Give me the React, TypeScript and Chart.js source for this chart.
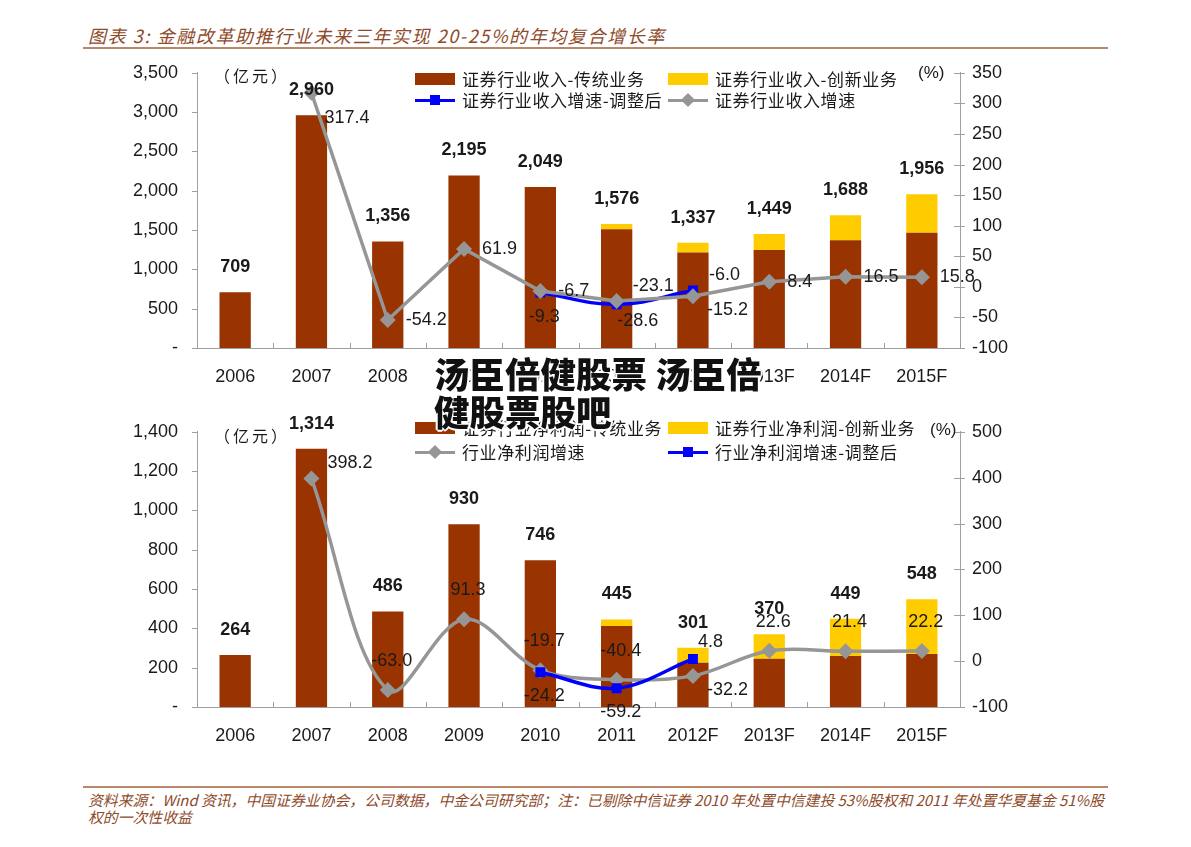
import React, { useEffect, useRef } from 'react';
import { Chart, registerables } from 'chart.js';

Chart.register(...registerables);

// ---------- data ----------
const categories = ['2006', '2007', '2008', '2009', '2010', '2011', '2012F', '2013F', '2014F', '2015F'];

// top chart: revenue (亿元)
const revenueTraditional = [709, 2960, 1356, 2195, 2049, 1510, 1215, 1245, 1370, 1465];
const revenueInnovation = [null, null, null, null, null, 66, 122, 204, 318, 491];
const revenueGrowth = [null, 317.4, -54.2, 61.9, -6.7, -23.1, -15.2, 8.4, 16.5, 15.8];
const revenueGrowthAdjusted = [null, null, null, null, -9.3, -28.6, -6.0, null, null, null];
const revenueLeftTicks = { min: 0, max: 3500, step: 500 };
const revenueRightTicks = { min: -100, max: 350, step: 50 };

// bottom chart: net profit (亿元)
const profitTraditional = [264, 1314, 486, 930, 746, 412, 225, 245, 260, 270];
const profitInnovation = [null, null, null, null, null, 33, 76, 125, 189, 278];
const profitGrowth = [null, 398.2, -63.0, 91.3, -19.7, -40.4, -32.2, 22.6, 21.4, 22.2];
const profitGrowthAdjusted = [null, null, null, null, -24.2, -59.2, 4.8, null, null, null];
const profitLeftTicks = { min: 0, max: 1400, step: 200 };
const profitRightTicks = { min: -100, max: 500, step: 100 };

// label placement codes (style only)
const revenueGrowthPlace = [null, 'rbb', 'r', 'r', 'r', 'ra', 'rb', 'r', 'r', 'r'];
const revenueAdjPlace = [null, null, null, null, 'b', 'bb', 'ra', null, null, null];
const profitGrowthPlace = [null, 'ra', 'a', 'a', 'a', 'a', 'rb', 'a', 'a', 'a'];
const profitAdjPlace = [null, null, null, null, 'b', 'b', 'ras', null, null, null];

// ---------- style ----------
const BROWN = '#993300';
const YELLOW = '#FFCC00';
const GREY = '#969696';
const BLUE = '#0000FF';
const AXIS = '#A0A0A0';
const TEXT = '#1a1a1a';
const NUM_FONT = '"Liberation Sans", Arial, sans-serif';
const CJK_FONT = '"Noto Sans CJK SC", "Noto Sans", sans-serif';
const TITLE_COLOR = '#8E4A2A';
const RULE_COLOR = '#B9876A';

const OFFSETS: Record<string, [number, number, CanvasTextAlign]> = {
  r: [18, 0, 'left'],
  ra: [16, -15, 'left'],
  ras: [5, -17, 'left'],
  rb: [14, 14, 'left'],
  rbb: [13, 25, 'left'],
  a: [4, -29, 'center'],
  b: [4, 24, 'center'],
  bb: [21, 17, 'center'],
};

const annotatePlugin = {
  id: 'annotate',
  afterDatasetsDraw(chart: any, _args: any, opts: any) {
    const ctx: CanvasRenderingContext2D = chart.ctx;
    const area = chart.chartArea;
    const xs = chart.scales.x;
    const yl = chart.scales.y;
    const yr = chart.scales.y1;
    ctx.save();
    ctx.strokeStyle = AXIS;
    ctx.lineWidth = 1;
    const seg = (x1: number, y1: number, x2: number, y2: number) => {
      ctx.beginPath();
      ctx.moveTo(x1, y1);
      ctx.lineTo(x2, y2);
      ctx.stroke();
    };
    const n = chart.data.labels.length;
    for (let i = 0; i <= n; i++) {
      const px = Math.round(area.left + (i * (area.right - area.left)) / n) + 0.5;
      seg(px, area.bottom, px, area.bottom - 5);
    }
    yl.ticks.forEach((t: any) => {
      const py = Math.round(yl.getPixelForValue(t.value)) + 0.5;
      seg(area.left - 5, py, area.left + 1, py);
    });
    yr.ticks.forEach((t: any) => {
      const py = Math.round(yr.getPixelForValue(t.value)) + 0.5;
      seg(area.right - 6, py, area.right + 5, py);
    });

    // totals above bars
    ctx.fillStyle = TEXT;
    ctx.font = `bold 18px ${NUM_FONT}`;
    ctx.textAlign = 'center';
    ctx.textBaseline = 'middle';
    const trad = chart.data.datasets[0].data;
    const innov = chart.data.datasets[1].data;
    for (let i = 0; i < n; i++) {
      const total = (trad[i] || 0) + (innov[i] || 0);
      const px = xs.getPixelForValue(i);
      const py = Math.max(yl.getPixelForValue(total) - 25, 12);
      ctx.fillText(total.toLocaleString('en-US'), px, py);
    }

    // line labels
    ctx.font = `18px ${NUM_FONT}`;
    (opts.lines || []).forEach((spec: any) => {
      const meta = chart.getDatasetMeta(spec.ds);
      const data = chart.data.datasets[spec.ds].data;
      data.forEach((v: any, i: number) => {
        if (v == null) return;
        const code = spec.place[i];
        if (!code) return;
        const [dx, dy, align] = OFFSETS[code];
        const p = meta.data[i];
        ctx.textAlign = align;
        ctx.fillText(Number(v).toFixed(1), p.x + dx, p.y + dy);
      });
    });
    ctx.restore();
  },
};

function buildConfig(
  trad: (number | null)[],
  innov: (number | null)[],
  growth: (number | null)[],
  adjusted: (number | null)[],
  left: { min: number; max: number; step: number },
  right: { min: number; max: number; step: number },
  growthTension: number,
  adjTension: number,
  greyOnTop: boolean,
  growthPlace: (string | null)[],
  adjPlace: (string | null)[],
  xHeight: number
): any {
  return {
    type: 'bar',
    data: {
      labels: categories,
      datasets: [
        {
          type: 'bar',
          label: 'trad',
          data: trad,
          backgroundColor: BROWN,
          stack: 's',
          yAxisID: 'y',
          barPercentage: 0.41,
          categoryPercentage: 1,
          order: 4,
        },
        {
          type: 'bar',
          label: 'innov',
          data: innov,
          backgroundColor: YELLOW,
          stack: 's',
          yAxisID: 'y',
          barPercentage: 0.41,
          categoryPercentage: 1,
          order: 5,
        },
        {
          type: 'line',
          label: 'growth',
          data: growth,
          yAxisID: 'y1',
          borderColor: GREY,
          backgroundColor: GREY,
          borderWidth: 3.5,
          tension: growthTension,
          pointStyle: 'rectRot',
          pointRadius: 8,
          pointBorderWidth: 0,
          pointBackgroundColor: GREY,
          order: greyOnTop ? 0 : 1,
        },
        {
          type: 'line',
          label: 'adjusted',
          data: adjusted,
          yAxisID: 'y1',
          borderColor: BLUE,
          backgroundColor: BLUE,
          borderWidth: 3.5,
          tension: adjTension,
          pointStyle: 'rect',
          pointRadius: 7,
          pointBorderWidth: 0,
          pointBackgroundColor: BLUE,
          order: greyOnTop ? 1 : 0,
        },
      ],
    },
    options: {
      responsive: false,
      animation: false,
      layout: { padding: { top: 6, left: 0, right: 0, bottom: 0 } },
      plugins: {
        legend: { display: false },
        tooltip: { enabled: false },
        annotate: {
          lines: [
            { ds: 2, place: growthPlace },
            { ds: 3, place: adjPlace },
          ],
        },
      },
      scales: {
        x: {
          stacked: true,
          offset: true,
          grid: { display: false },
          border: { display: true, color: AXIS, width: 1 },
          ticks: { color: TEXT, font: { family: NUM_FONT, size: 18 }, padding: 10, maxRotation: 0, autoSkip: false },
          afterFit: (s: any) => {
            s.height = xHeight;
          },
        },
        y: {
          position: 'left',
          stacked: true,
          min: left.min,
          max: left.max,
          grid: { display: false },
          border: { display: true, color: AXIS, width: 1 },
          ticks: {
            stepSize: left.step,
            color: TEXT,
            font: { family: NUM_FONT, size: 18 },
            padding: 11,
            callback: (v: any) => (Number(v) === 0 ? '-' : Number(v).toLocaleString('en-US')),
          },
          afterFit: (s: any) => {
            s.width = 97;
          },
        },
        y1: {
          position: 'right',
          min: right.min,
          max: right.max,
          grid: { display: false },
          border: { display: true, color: AXIS, width: 1 },
          ticks: {
            stepSize: right.step,
            color: TEXT,
            font: { family: NUM_FONT, size: 18 },
            padding: 4,
            callback: (v: any) => String(v),
          },
          afterFit: (s: any) => {
            s.width = 60;
          },
        },
      },
    },
    plugins: [annotatePlugin],
  };
}

function ChartCanvas({ config, style, width, height }: { config: any; style: React.CSSProperties; width: number; height: number }) {
  const ref = useRef<HTMLCanvasElement | null>(null);
  useEffect(() => {
    if (!ref.current) return;
    const chart = new Chart(ref.current, config);
    return () => chart.destroy();
  }, []);
  return <canvas ref={ref} width={width} height={height} style={{ position: 'absolute', width, height, ...style }} />;
}

const abs = (left: number, top: number, extra: React.CSSProperties = {}): React.CSSProperties => ({
  position: 'absolute',
  left,
  top,
  whiteSpace: 'nowrap',
  ...extra,
});

const legendText: React.CSSProperties = {
  fontFamily: CJK_FONT,
  fontSize: 17,
  letterSpacing: 0.6,
  color: TEXT,
  lineHeight: '20px',
};

function RectKey({ x, y, color }: { x: number; y: number; color: string }) {
  return <div style={abs(x, y - 6, { width: 40, height: 12, background: color })} />;
}

function LineKey({ x, y, color, marker }: { x: number; y: number; color: string; marker: 'diamond' | 'square' }) {
  return (
    <>
      <div style={abs(x, y - 1.5, { width: 40, height: 3, background: color })} />
      {marker === 'diamond' ? (
        <div style={abs(x + 20 - 5, y - 5, { width: 10, height: 10, background: color, transform: 'rotate(45deg)' })} />
      ) : (
        <div style={abs(x + 20 - 5, y - 5, { width: 10, height: 10, background: color })} />
      )}
    </>
  );
}

function LegendLabel({ x, y, text }: { x: number; y: number; text: string }) {
  return <div style={abs(x, y - 10, legendText)}>{text}</div>;
}

const unitStyle: React.CSSProperties = { ...legendText, fontSize: 16, letterSpacing: 3 };

export default function App() {
  const topConfig = buildConfig(
    revenueTraditional,
    revenueInnovation,
    revenueGrowth,
    revenueGrowthAdjusted,
    revenueLeftTicks,
    revenueRightTicks,
    0,
    0.4,
    true,
    revenueGrowthPlace,
    revenueAdjPlace,
    52
  );
  const bottomConfig = buildConfig(
    profitTraditional,
    profitInnovation,
    profitGrowth,
    profitGrowthAdjusted,
    profitLeftTicks,
    profitRightTicks,
    0.35,
    0.35,
    false,
    profitGrowthPlace,
    profitAdjPlace,
    53
  );

  return (
    <div style={{ position: 'fixed', left: 0, top: 0, width: 1191, height: 847, background: '#fff', overflow: 'hidden' }}>
      {/* title */}
      <div
        style={abs(88, 24, {
          fontFamily: CJK_FONT,
          fontSize: 18,
          letterSpacing: 1.6,
          fontStyle: 'italic',
          color: TITLE_COLOR,
          lineHeight: '22px',
        })}
      >
        图表 3: 金融改革助推行业未来三年实现 20-25%的年均复合增长率
      </div>
      <div style={abs(83, 47, { width: 1025, height: 2, background: RULE_COLOR })} />

      {/* top chart */}
      <ChartCanvas config={topConfig} width={920} height={349} style={{ left: 100, top: 51 }} />
      <div style={abs(214, 65, unitStyle)}>（亿元）</div>
      <div style={abs(918, 63, { fontFamily: NUM_FONT, fontSize: 17, color: TEXT, lineHeight: '20px' })}>(%)</div>
      <RectKey x={415} y={79} color={BROWN} />
      <LegendLabel x={462} y={79} text="证券行业收入-传统业务" />
      <RectKey x={668} y={79} color={YELLOW} />
      <LegendLabel x={715} y={79} text="证券行业收入-创新业务" />
      <LineKey x={415} y={100} color={BLUE} marker="square" />
      <LegendLabel x={462} y={100} text="证券行业收入增速-调整后" />
      <LineKey x={668} y={100} color={GREY} marker="diamond" />
      <LegendLabel x={715} y={100} text="证券行业收入增速" />

      {/* bottom chart */}
      <ChartCanvas config={bottomConfig} width={920} height={350} style={{ left: 100, top: 410 }} />
      <div style={abs(214, 425, unitStyle)}>（亿元）</div>
      <div style={abs(930, 420, { fontFamily: NUM_FONT, fontSize: 17, color: TEXT, lineHeight: '20px' })}>(%)</div>
      <RectKey x={415} y={428} color={BROWN} />
      <LegendLabel x={462} y={428} text="证券行业净利润-传统业务" />
      <RectKey x={668} y={428} color={YELLOW} />
      <LegendLabel x={715} y={428} text="证券行业净利润-创新业务" />
      <LineKey x={415} y={452} color={GREY} marker="diamond" />
      <LegendLabel x={462} y={452} text="行业净利润增速" />
      <LineKey x={668} y={452} color={BLUE} marker="square" />
      <LegendLabel x={715} y={452} text="行业净利润增速-调整后" />

      {/* watermark overlay */}
      <div
        style={abs(434, 354, {
          fontFamily: CJK_FONT,
          fontWeight: 900,
          fontSize: 35.5,
          lineHeight: '38px',
          color: '#111',
          textShadow:
            '1px 1px 0 #fff, -1px -1px 0 #fff, 1px -1px 0 #fff, -1px 1px 0 #fff, 2px 0 0 #fff, -2px 0 0 #fff, 0 2px 0 #fff, 0 -2px 0 #fff',
        })}
      >
        汤臣倍健股票 汤臣倍
        <br />
        健股票股吧
      </div>

      {/* footer */}
      <div style={abs(83, 786, { width: 1025, height: 2, background: RULE_COLOR })} />
      <div
        style={abs(88, 791, {
          fontFamily: CJK_FONT,
          fontSize: 14.85,
          fontStyle: 'italic',
          color: TITLE_COLOR,
          lineHeight: '17px',
        })}
      >
        资料来源：Wind 资讯，中国证券业协会，公司数据，中金公司研究部；注：已剔除中信证券 2010 年处置中信建投 53%股权和 2011 年处置华夏基金 51%股
        <br />
        权的一次性收益
      </div>
    </div>
  );
}
